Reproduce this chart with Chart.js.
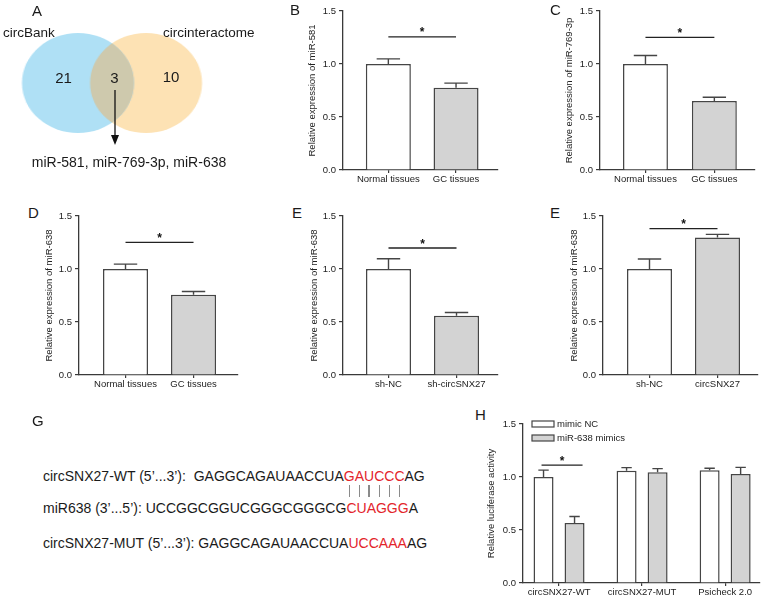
<!DOCTYPE html>
<html><head><meta charset="utf-8">
<script src="https://cdn.jsdelivr.net/npm/chart.js@4/dist/chart.umd.min.js"></script>
<style>
html,body{margin:0;padding:0;background:#fff;}
body{width:765px;height:599px;position:relative;overflow:hidden;font-family:'Liberation Sans',Arial,sans-serif;color:#1a1a1a;}
.t{position:absolute;white-space:pre;line-height:normal;}
.c{transform:translateX(-50%);}
canvas{position:absolute;}
.red{color:#e3242b;}
.pair{position:absolute;width:1.2px;height:12px;background:#8a8a8a;}
</style></head><body>
<script>
// ---------- data ----------
const vennSets = ['circBank', 'circinteractome'];
const vennCounts = [21, 3, 10];            // only circBank, shared, only circinteractome
const vennShared = 'miR-581, miR-769-3p, miR-638';

const tissueLabels = ['Normal tissues', 'GC tissues'];
const miR581 = [1.00, 0.775];       const miR581Err = [0.048, 0.045];
const miR769 = [1.00, 0.652];       const miR769Err = [0.080, 0.035];
const miR638Tissue = [1.00, 0.757]; const miR638TissueErr = [0.046, 0.031];

const shLabels = ['sh-NC', 'sh-circSNX27'];
const miR638Sh = [1.00, 0.558];     const miR638ShErr = [0.097, 0.031];

const oeLabels = ['sh-NC', 'circSNX27'];
const miR638Oe = [1.00, 1.298];     const miR638OeErr = [0.094, 0.029];

const lucGroups = ['circSNX27-WT', 'circSNX27-MUT', 'Psicheck 2.0'];
const lucSeries = ['mimic NC', 'miR-638 mimics'];
const lucNC = [1.00, 1.060, 1.063];    const lucNCErr = [0.065, 0.028, 0.019];
const lucMimic = [0.567, 1.044, 1.028]; const lucMimicErr = [0.060, 0.035, 0.063];

const yTicks = [0, 0.5, 1.0, 1.5];
const sigLevels = {B: 1.255, C: 1.252, D: 1.251, E: 1.198, E2: 1.38, H: 1.112};

const seqWT = ['GAGGCAGAUAACCUA', 'GAUCCC', 'AG'];
const seqMiR = ['UCCGGCGGUCGGGCGGGCG', 'CUAGGG', 'A'];
const seqMUT = ['GAGGCAGAUAACCUA', 'UCCAAA', 'AG'];

// ---------- styles ----------
const AXIS = '#3a3a3a', EDGE = '#454545', GRAY = '#d3d3d3', WHITE = '#ffffff';
const BLUE = '#afe0f5', ORANGE = '#fde2b4', OVERLAP = '#cec9ad';
Chart.defaults.font.family = "'Liberation Sans', Arial, sans-serif";
Chart.defaults.color = '#222';

function text(str, x, cy, size, opts = {}) {
  const d = document.createElement('div');
  d.className = 't' + (opts.center ? ' c' : '');
  d.style.left = x + 'px';
  d.style.top = (cy - 0.547 * size) + 'px';
  d.style.fontSize = size + 'px';
  if (opts.html) d.innerHTML = str; else d.textContent = str;
  document.body.appendChild(d);
  return d;
}
function canvasAt(l, t, w, h, css) {
  const c = document.createElement('canvas');
  c.width = w; c.height = h;
  c.style.left = l + 'px'; c.style.top = t + 'px';
  if (css) Object.assign(c.style, css);
  document.body.appendChild(c);
  return c;
}

// ---------- plugins ----------
const errorBars = {
  id: 'errorBars',
  afterDatasetsDraw(chart) {
    const {ctx} = chart, y = chart.scales.y;
    chart.data.datasets.forEach((ds, di) => {
      chart.getDatasetMeta(di).data.forEach((bar, i) => {
        const v = ds.data[i].y, e = ds.errors[i];
        const top = y.getPixelForValue(v + e), base = y.getPixelForValue(v);
        const half = bar.width * 0.26;
        ctx.save();
        ctx.strokeStyle = EDGE; ctx.lineWidth = 1.4;
        ctx.beginPath();
        ctx.moveTo(bar.x, base); ctx.lineTo(bar.x, top);
        ctx.moveTo(bar.x - half, top); ctx.lineTo(bar.x + half, top);
        ctx.stroke(); ctx.restore();
      });
    });
  }
};
const sig = {
  id: 'sig',
  afterDraw(chart, args, o) {
    if (!o || o.level == null) return;
    const {ctx} = chart, y = chart.scales.y;
    const a = chart.getDatasetMeta(o.from[0]).data[o.from[1]];
    const b = chart.getDatasetMeta(o.to[0]).data[o.to[1]];
    const x1 = a.x + (o.dl || 0), x2 = b.x + (o.dr || 0);
    const py = y.getPixelForValue(o.level);
    ctx.save();
    ctx.strokeStyle = '#222'; ctx.lineWidth = 1.3;
    ctx.beginPath(); ctx.moveTo(x1, py); ctx.lineTo(x2, py); ctx.stroke();
    ctx.fillStyle = '#111'; ctx.font = "bold 12px 'Liberation Sans', Arial, sans-serif";
    ctx.textAlign = 'center'; ctx.textBaseline = 'alphabetic';
    ctx.fillText('*', (x1 + x2) / 2, py - 0.5);
    ctx.restore();
  }
};
const boxLegend = {
  id: 'boxLegend',
  afterDraw(chart, args, o) {
    if (!o || !o.show) return;
    const {ctx, chartArea} = chart;
    chart.data.datasets.forEach((ds, i) => {
      const bx = chartArea.left + 9, by = chartArea.top - 3 + i * 14;
      ctx.save();
      ctx.fillStyle = ds.backgroundColor; ctx.strokeStyle = EDGE; ctx.lineWidth = 1.2;
      ctx.fillRect(bx, by, 22, 6); ctx.strokeRect(bx, by, 22, 6);
      ctx.fillStyle = '#222'; ctx.font = "9.5px 'Liberation Sans', Arial, sans-serif";
      ctx.textAlign = 'left'; ctx.textBaseline = 'middle';
      ctx.fillText(ds.label, bx + 25, by + 3.5);
      ctx.restore();
    });
  }
};

function barPanel(o) {
  const cv = canvasAt(o.left, o.top, o.w, o.h);
  const xs = o.labels.map((_, i) => i + 1);
  const datasets = o.series.map(s => ({
    label: s.label,
    data: xs.map((x, i) => ({x, y: s.values[i]})),
    errors: s.errs,
    backgroundColor: s.fill,
    borderColor: EDGE, borderWidth: 1.5, borderSkipped: 'bottom',
    categoryPercentage: o.cp, barPercentage: o.bp
  }));
  return new Chart(cv, {
    type: 'bar',
    data: {datasets},
    options: {
      responsive: false, animation: false, events: [],
      layout: {padding: {left: o.pl, right: o.pr, top: o.pt, bottom: o.pb}},
      plugins: {legend: {display: false}, tooltip: {enabled: false},
        sig: o.sig, boxLegend: {show: !!o.legend}},
      scales: {
        x: {
          type: 'linear', min: o.xmin, max: o.xmax, offset: false,
          afterBuildTicks: s => { s.ticks = xs.map(v => ({value: v})); },
          afterFit: s => { s.height = o.xH; },
          ticks: {callback: v => o.labels[Math.round(v) - 1] ?? '', autoSkip: false,
                  maxRotation: 0, padding: 1, color: '#222', font: {size: 9.5}},
          grid: {display: true, offset: false, drawOnChartArea: false, drawTicks: true,
                 tickLength: 3, color: AXIS, lineWidth: 1.2},
          border: {display: true, color: AXIS, width: 1.3}
        },
        y: {
          min: 0, max: 1.5,
          afterBuildTicks: s => { s.ticks = yTicks.map(v => ({value: v})); },
          afterFit: s => { s.width = o.yW; },
          ticks: {callback: v => Number(v).toFixed(1), padding: 3, color: '#222', font: {size: 9.5}},
          grid: {display: true, drawOnChartArea: false, drawTicks: true, tickLength: 4,
                 color: AXIS, lineWidth: 1.2},
          border: {display: true, color: AXIS, width: 1.3},
          title: {display: true, text: o.title, padding: 0, color: '#222', font: {size: 9.5}}
        }
      }
    },
    plugins: [errorBars, sig, boxLegend]
  });
}

// ---------- panel A : Venn ----------
const venn = canvasAt(0, 0, 200, 200, {transform: 'scaleX(1.12)', transformOrigin: '0 0'});
const vennOverlap = {
  id: 'vennOverlap',
  afterDatasetsDraw(chart) {
    const a = chart.getDatasetMeta(0).data[0], b = chart.getDatasetMeta(1).data[0];
    const ctx = chart.ctx;
    ctx.save();
    ctx.beginPath(); ctx.arc(a.x, a.y, a.options.radius, 0, Math.PI * 2); ctx.clip();
    ctx.beginPath(); ctx.arc(b.x, b.y, b.options.radius, 0, Math.PI * 2);
    ctx.fillStyle = OVERLAP; ctx.fill();
    ctx.restore();
  }
};
new Chart(venn, {
  type: 'bubble',
  data: {datasets: [
    {label: vennSets[0], data: [{x: 69.6, y: 83, r: 50}], backgroundColor: BLUE, borderWidth: 0, clip: false},
    {label: vennSets[1], data: [{x: 130.4, y: 83, r: 50}], backgroundColor: ORANGE, borderWidth: 0, clip: false}
  ]},
  options: {
    responsive: false, animation: false, events: [],
    layout: {padding: 0, autoPadding: false},
    plugins: {legend: {display: false}, tooltip: {enabled: false}},
    scales: {x: {type: 'linear', min: 0, max: 200, display: false},
             y: {type: 'linear', min: 0, max: 200, reverse: true, display: false}}
  },
  plugins: [vennOverlap]
});
text('A', 32, 10, 15);
text(vennSets[0], 3, 32, 13.5);
text(vennSets[1], 163, 32, 13.5);
text(String(vennCounts[0]), 63.5, 77, 15, {center: true});
text(String(vennCounts[1]), 114.5, 77, 15, {center: true});
text(String(vennCounts[2]), 171, 76, 15, {center: true});
text(vennShared, 129, 162, 14, {center: true});
// arrow
(function () {
  const ns = 'http://www.w3.org/2000/svg';
  const s = document.createElementNS(ns, 'svg');
  s.setAttribute('width', '20'); s.setAttribute('height', '70');
  s.style.cssText = 'position:absolute;left:105px;top:85px;';
  s.innerHTML = '<line x1="10" y1="5" x2="10" y2="52" stroke="#111" stroke-width="1.3"/>' +
                '<polygon points="6,50 14,50 10,60" fill="#111"/>';
  document.body.appendChild(s);
})();

// ---------- panel B ----------
text('B', 290, 9, 15);
barPanel({left: 260, top: 0, w: 250, h: 200, pl: 47, pr: 12, pt: 11, pb: 6, yW: 36, xH: 24,
  xmin: 0.33, xmax: 2.62, cp: 1, bp: 0.665, labels: tissueLabels,
  title: 'Relative expression of miR-581',
  series: [{label: 'expr', values: miR581, errs: miR581Err, fill: [WHITE, GRAY]}],
  sig: {level: sigLevels.B, from: [0, 0], to: [0, 1]}});

// ---------- panel C ----------
text('C', 550, 9, 15);
barPanel({left: 510, top: 0, w: 255, h: 200, pl: 54, pr: 10, pt: 11, pb: 6, yW: 36, xH: 24,
  xmin: 0.34, xmax: 2.59, cp: 1, bp: 0.652, labels: tissueLabels,
  title: 'Relative expression of miR-769-3p',
  series: [{label: 'expr', values: miR769, errs: miR769Err, fill: [WHITE, GRAY]}],
  sig: {level: sigLevels.C, from: [0, 0], to: [0, 1]}});

// ---------- panel D ----------
text('D', 28, 212, 15);
barPanel({left: 0, top: 195, w: 260, h: 205, pl: 44, pr: 22, pt: 21, pb: 1, yW: 35, xH: 24,
  xmin: 0.316, xmax: 2.654, cp: 1, bp: 0.662, labels: tissueLabels,
  title: 'Relative expression of miR-638',
  series: [{label: 'expr', values: miR638Tissue, errs: miR638TissueErr, fill: [WHITE, GRAY]}],
  sig: {level: sigLevels.D, from: [0, 0], to: [0, 1]}});

// ---------- panel E ----------
text('E', 292, 212, 15);
barPanel({left: 260, top: 195, w: 250, h: 205, pl: 49, pr: 12, pt: 21, pb: 1, yW: 34, xH: 24,
  xmin: 0.331, xmax: 2.61, cp: 1, bp: 0.662, labels: shLabels,
  title: 'Relative expression of miR-638',
  series: [{label: 'expr', values: miR638Sh, errs: miR638ShErr, fill: [WHITE, GRAY]}],
  sig: {level: sigLevels.E, from: [0, 0], to: [0, 1]}});

// ---------- panel E (second) ----------
text('E', 550, 212, 15);
barPanel({left: 510, top: 195, w: 255, h: 205, pl: 59, pr: 7, pt: 21, pb: 1, yW: 34, xH: 24,
  xmin: 0.316, xmax: 2.596, cp: 1, bp: 0.662, labels: oeLabels,
  title: 'Relative expression of miR-638',
  series: [{label: 'expr', values: miR638Oe, errs: miR638OeErr, fill: [WHITE, GRAY]}],
  sig: {level: sigLevels.E2, from: [0, 0], to: [0, 1]}});

// ---------- panel G ----------
text('G', 32, 420, 15);
function seqLine(prefix, parts, cy, id) {
  const red = parts[1].split('').map(ch => '<span class="nt">' + ch + '</span>').join('');
  const d = text(prefix + parts[0] + '<span class="red">' + red + '</span>' + parts[2], 43, cy, 14, {html: true});
  d.id = id;
  return d;
}
seqLine('circSNX27-WT (5’...3’):  ', seqWT, 476, 'lwt');
seqLine('miR638 (3’...5’): ', seqMiR, 508, 'lmir');
seqLine('circSNX27-MUT (5’...3’): ', seqMUT, 543, 'lmut');
document.querySelectorAll('#lwt .nt').forEach(sp => {
  const r = sp.getBoundingClientRect();
  const p = document.createElement('div');
  p.className = 'pair';
  p.style.left = (r.left + r.width / 2 - 0.6) + 'px';
  p.style.top = '485px';
  document.body.appendChild(p);
});

// ---------- panel H ----------
text('H', 475, 414, 15);
barPanel({left: 460, top: 400, w: 305, h: 199, pl: 26, pr: 5, pt: 24, pb: 0, yW: 37, xH: 16,
  xmin: 0.566, xmax: 3.42, cp: 0.747, bp: 0.645, labels: lucGroups,
  title: 'Relative luciferase activity', legend: true,
  series: [{label: lucSeries[0], values: lucNC, errs: lucNCErr, fill: WHITE},
           {label: lucSeries[1], values: lucMimic, errs: lucMimicErr, fill: GRAY}],
  sig: {level: sigLevels.H, from: [0, 0], to: [1, 0], dl: -2, dr: 8}});
</script>
</body></html>
